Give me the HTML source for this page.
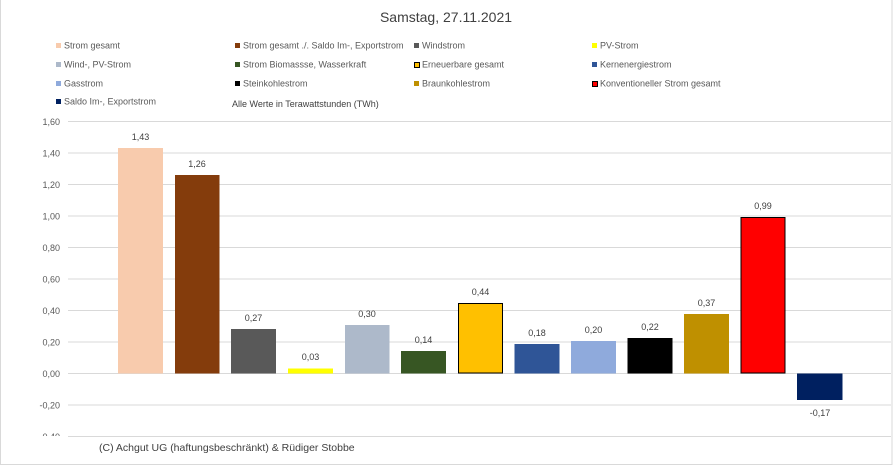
<!DOCTYPE html>
<html><head><meta charset="utf-8"><style>
html,body{margin:0;padding:0;background:#fff;}
svg{display:block;font-family:"Liberation Sans",sans-serif;}
</style></head><body>
<svg width="893" height="466" viewBox="0 0 893 466" xmlns="http://www.w3.org/2000/svg">
<rect x="0.5" y="-1" width="891.5" height="465.5" fill="#fff" stroke="#d9d9d9" stroke-width="1"/>
<text x="446" y="22" font-size="14" fill="#404040" text-anchor="middle">Samstag, 27.11.2021</text>
<g font-size="9" fill="#595959">
<rect x="56" y="43" width="5" height="5" fill="#f8cbad"/><text x="64" y="48.5">Strom gesamt</text>
<rect x="235" y="43" width="5" height="5" fill="#843c0c"/><text x="243" y="48.5">Strom gesamt ./. Saldo Im-, Exportstrom</text>
<rect x="414" y="43" width="5" height="5" fill="#595959"/><text x="422" y="48.5">Windstrom</text>
<rect x="592" y="43" width="5" height="5" fill="#ffff00"/><text x="600" y="48.5">PV-Strom</text>
<rect x="56" y="62" width="5" height="5" fill="#adb9ca"/><text x="64" y="67.5">Wind-, PV-Strom</text>
<rect x="235" y="62" width="5" height="5" fill="#375623"/><text x="243" y="67.5">Strom Biomassse, Wasserkraft</text>
<rect x="414.5" y="62.5" width="5" height="5" fill="#ffc000" stroke="#000" stroke-width="1"/><text x="422" y="67.5">Erneuerbare gesamt</text>
<rect x="592" y="62" width="5" height="5" fill="#2f5597"/><text x="600" y="67.5">Kernenergiestrom</text>
<rect x="56" y="81" width="5" height="5" fill="#8faadc"/><text x="64" y="86.5">Gasstrom</text>
<rect x="235" y="81" width="5" height="5" fill="#000"/><text x="243" y="86.5">Steinkohlestrom</text>
<rect x="414" y="81" width="5" height="5" fill="#bf9000"/><text x="422" y="86.5">Braunkohlestrom</text>
<rect x="592.5" y="81.5" width="5" height="5" fill="#ff0000" stroke="#000" stroke-width="1"/><text x="600" y="86.5">Konventioneller Strom gesamt</text>
<rect x="56" y="99" width="5" height="5" fill="#002060"/><text x="64" y="104.5">Saldo Im-, Exportstrom</text>
<text x="232" y="107" fill="#404040">Alle Werte in Terawattstunden (TWh)</text>
</g>
<g stroke="#d9d9d9" stroke-width="1">
<line x1="68" x2="891" y1="121.5" y2="121.5"/>
<line x1="68" x2="891" y1="153" y2="153"/>
<line x1="68" x2="891" y1="184.5" y2="184.5"/>
<line x1="68" x2="891" y1="216" y2="216"/>
<line x1="68" x2="891" y1="247.5" y2="247.5"/>
<line x1="68" x2="891" y1="279" y2="279"/>
<line x1="68" x2="891" y1="310.5" y2="310.5"/>
<line x1="68" x2="891" y1="342" y2="342"/>
<line x1="68" x2="891" y1="373.5" y2="373.5"/>
<line x1="68" x2="891" y1="405" y2="405"/>
<line x1="68" x2="891" y1="436.5" y2="436.5"/>
</g>
<g font-size="9" fill="#595959" text-anchor="end">
<text x="60" y="125">1,60</text><text x="60" y="156.5">1,40</text><text x="60" y="188">1,20</text>
<text x="60" y="219.5">1,00</text><text x="60" y="251">0,80</text><text x="60" y="282.5">0,60</text>
<text x="60" y="314">0,40</text><text x="60" y="345.5">0,20</text><text x="60" y="377">0,00</text>
<text x="60" y="408.5">-0,20</text>
<svg x="0" y="430" width="70" height="6" overflow="hidden"><text x="60" y="10">-0,40</text></svg>
</g>
<g>
<rect x="118" y="148" width="45" height="225.5" fill="#f8cbad"/>
<rect x="175" y="175" width="44.5" height="198.5" fill="#843c0c"/>
<rect x="231" y="329" width="45" height="44.5" fill="#595959"/>
<rect x="288" y="368.5" width="45" height="5" fill="#ffff00"/>
<rect x="345" y="325" width="44.5" height="48.5" fill="#adb9ca"/>
<rect x="401" y="351" width="45" height="22.5" fill="#375623"/>
<rect x="458.5" y="303.5" width="44" height="69.5" fill="#ffc000" stroke="#000" stroke-width="1"/>
<rect x="514.5" y="344" width="45" height="29.5" fill="#2f5597"/>
<rect x="571" y="341" width="45" height="32.5" fill="#8faadc"/>
<rect x="627.5" y="338" width="45" height="35.5" fill="#000"/>
<rect x="684" y="314" width="45" height="59.5" fill="#bf9000"/>
<rect x="741" y="217.5" width="44" height="155.5" fill="#ff0000" stroke="#000" stroke-width="1"/>
<rect x="797" y="373.5" width="45.5" height="26.5" fill="#002060"/>
</g>
<g font-size="9" fill="#404040" text-anchor="middle">
<text x="140.5" y="140">1,43</text>
<text x="197" y="167">1,26</text>
<text x="253.5" y="321">0,27</text>
<text x="310.5" y="360">0,03</text>
<text x="367" y="317">0,30</text>
<text x="423.5" y="343">0,14</text>
<text x="480.5" y="295">0,44</text>
<text x="537" y="336">0,18</text>
<text x="593.5" y="333">0,20</text>
<text x="650" y="330">0,22</text>
<text x="706.5" y="306">0,37</text>
<text x="763" y="209">0,99</text>
<text x="820" y="416">-0,17</text>
</g>
<text x="99" y="451" font-size="10.5" fill="#404040">(C) Achgut UG (haftungsbeschränkt) &amp; Rüdiger Stobbe</text>
</svg>
</body></html>
